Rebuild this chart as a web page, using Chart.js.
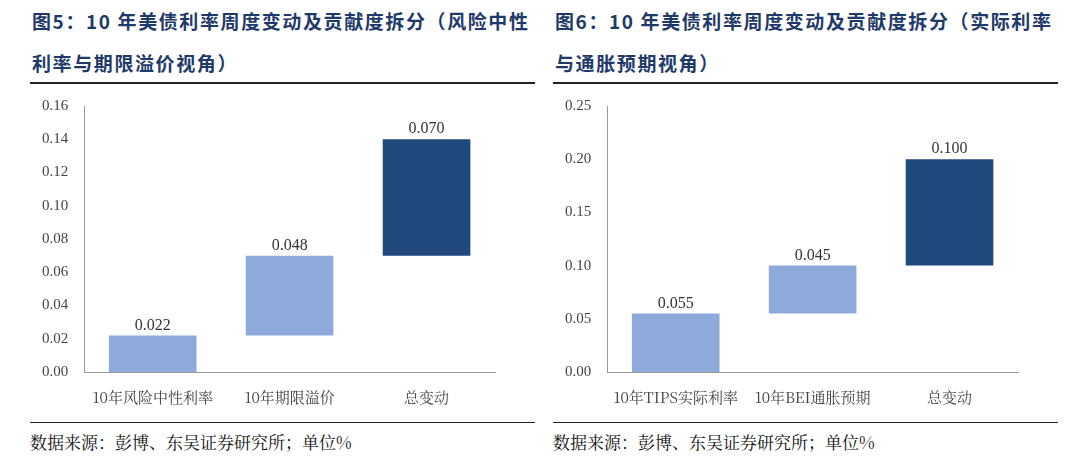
<!DOCTYPE html>
<html><head><meta charset="utf-8">
<script src="https://cdn.jsdelivr.net/npm/chart.js@4"></script>
<style>
body{margin:0;width:1080px;height:475px;background:#fff;font-family:"Noto Sans CJK SC";overflow:hidden}
.p{position:absolute;top:0;width:505px}
.t{color:#1f3a6a;font-weight:bold;font-size:19px;letter-spacing:1.6px;line-height:42px;height:82px;padding-left:2px}
.l{border-top:2px solid #222;}
.c{position:relative;height:338px}
.s{border-top:1.5px solid #222;font-size:17px;padding-top:6px;font-family:"Noto Serif CJK SC","Noto Sans CJK SC";color:#111}
</style></head><body>
<div class="p" style="left:30px"><div class="t">图5：10 年美债利率周度变动及贡献度拆分（风险中性利率与期限溢价视角）</div><div class="l"></div><div class="c"><canvas id="a"></canvas></div><div class="s">数据来源：彭博、东吴证券研究所；单位%</div></div>
<div class="p" style="left:553px"><div class="t">图6：10 年美债利率周度变动及贡献度拆分（实际利率与通胀预期视角）</div><div class="l"></div><div class="c"><canvas id="b"></canvas></div><div class="s">数据来源：彭博、东吴证券研究所；单位%</div></div>
<script>
const cats1=["10年风险中性利率","10年期限溢价","总变动"];
const lows1=[0,0.022,0.070], highs1=[0.022,0.070,0.140], labels1=["0.022","0.048","0.070"];
const cats2=["10年TIPS实际利率","10年BEI通胀预期","总变动"];
const lows2=[0,0.055,0.100], highs2=[0.055,0.100,0.200], labels2=["0.055","0.045","0.100"];
const colors=["#8eaadb","#8eaadb","#1f497d"];
const lbl={id:'lbl',afterDatasetsDraw(c){const ctx=c.ctx,m=c.getDatasetMeta(0);ctx.save();ctx.font='16px "Liberation Serif"';ctx.fillStyle='#333';ctx.textAlign='center';ctx.textBaseline='bottom';m.data.forEach((b,i)=>ctx.fillText(c.options.plugins.lbl.t[i],b.x,b.y-2));ctx.restore();}};
function mk(id,cats,lo,hi,lab,max,step){
new Chart(document.getElementById(id),{type:'bar',plugins:[lbl],data:{labels:cats,datasets:[{data:lo.map((v,i)=>[v,hi[i]]),backgroundColor:colors,barPercentage:0.64,categoryPercentage:1}]},
options:{responsive:true,maintainAspectRatio:false,animation:false,layout:{padding:{top:22,left:4,right:40,bottom:8}},
plugins:{legend:{display:false},tooltip:{enabled:false},lbl:{t:lab}},
scales:{x:{grid:{display:false},border:{color:'#999'},ticks:{color:'#444',padding:8,font:{size:15,family:'"Noto Serif CJK SC","Noto Sans CJK SC"'}}},
y:{min:0,max:max,ticks:{stepSize:step,color:'#444',padding:8,font:{size:15,family:'"Liberation Serif"'},callback:v=>v.toFixed(2)},grid:{display:false},border:{color:'#999'}}}}});}
mk('a',cats1,lows1,highs1,labels1,0.16,0.02);
mk('b',cats2,lows2,highs2,labels2,0.25,0.05);
</script></body></html>
